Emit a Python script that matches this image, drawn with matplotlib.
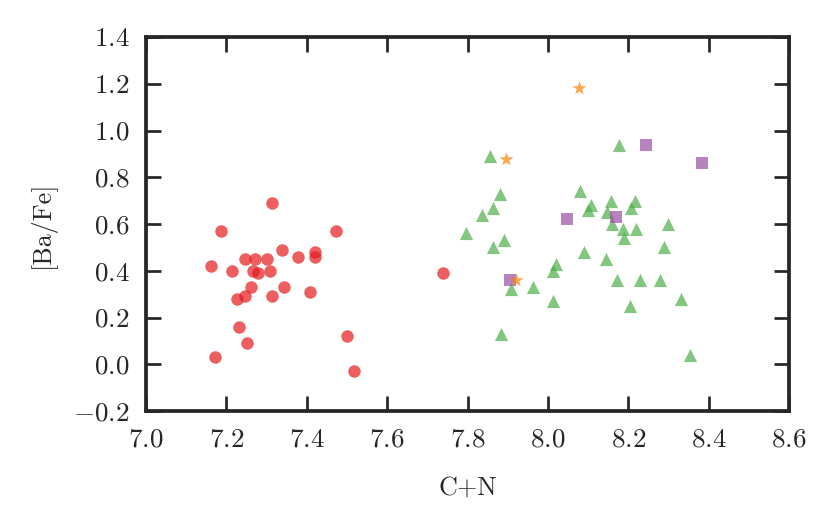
import matplotlib
matplotlib.use('Agg')
import matplotlib.pyplot as plt

# red circles
red_cn = [7.313, 7.186, 7.474, 7.338, 7.377, 7.421, 7.421, 7.246, 7.271, 7.301,
          7.162, 7.214, 7.267, 7.279, 7.309, 7.261, 7.343, 7.408, 7.226, 7.246,
          7.313, 7.232, 7.251, 7.499, 7.172, 7.518, 7.740]
red_ba = [0.69, 0.57, 0.57, 0.49, 0.46, 0.48, 0.46, 0.45, 0.45, 0.45,
          0.42, 0.40, 0.40, 0.39, 0.40, 0.33, 0.33, 0.31, 0.28, 0.29,
          0.29, 0.16, 0.09, 0.12, 0.03, -0.03, 0.39]

# green triangles
green_cn = [7.857, 8.176, 7.880, 7.864, 7.835, 7.796, 7.890, 7.863, 8.081, 8.107,
            8.101, 8.157, 8.217, 8.208, 8.146, 8.159, 8.186, 8.219, 8.190, 8.300,
            8.288, 8.090, 8.144, 8.019, 8.013, 8.171, 8.230, 8.278, 7.962, 7.907,
            8.013, 8.204, 8.332, 7.883, 8.354]
green_ba = [0.89, 0.94, 0.73, 0.67, 0.64, 0.56, 0.53, 0.50, 0.74, 0.68,
            0.66, 0.70, 0.70, 0.67, 0.65, 0.60, 0.58, 0.58, 0.54, 0.60,
            0.50, 0.48, 0.45, 0.43, 0.40, 0.36, 0.36, 0.36, 0.33, 0.32,
            0.27, 0.25, 0.28, 0.13, 0.04]

# purple squares
purple_cn = [8.243, 8.048, 8.170, 7.905, 8.383]
purple_ba = [0.94, 0.62, 0.63, 0.36, 0.86]

# orange stars
orange_cn = [8.077, 7.896, 7.921]
orange_ba = [1.18, 0.88, 0.36]

plt.rcParams['font.family'] = 'serif'
plt.rcParams['font.serif'] = ['cmr10']
plt.rcParams['mathtext.fontset'] = 'cm'
plt.rcParams['axes.formatter.use_mathtext'] = True
plt.rcParams['axes.unicode_minus'] = True

fig = plt.figure(figsize=(829 / 150, 525 / 150), dpi=150)
ax = fig.add_axes([146 / 829, 1 - 411 / 525, 643 / 829, 374 / 525])

ax.scatter(red_cn, red_ba, c='#e41a1c', marker='o', s=36, alpha=0.7, linewidths=0)
ax.scatter(green_cn, green_ba, c='#4daf4a', marker='^', s=40, alpha=0.7, linewidths=0)
ax.scatter(purple_cn, purple_ba, c='#984ea3', marker='s', s=34, alpha=0.7, linewidths=0)
ax.scatter(orange_cn, orange_ba, c='#ff7f00', marker='*', s=50, alpha=0.7, linewidths=0)

ax.set_xlim(7.0, 8.6)
ax.set_ylim(-0.2, 1.4)
ax.set_xticks([7.0, 7.2, 7.4, 7.6, 7.8, 8.0, 8.2, 8.4, 8.6])
ax.set_yticks([-0.2, 0.0, 0.2, 0.4, 0.6, 0.8, 1.0, 1.2, 1.4])
ax.set_xlabel('C+N', fontsize=12.5, color='#262626', labelpad=12)
ax.set_ylabel('[Ba/Fe]', fontsize=12.5, color='#262626', labelpad=8)

for sp in ax.spines.values():
    sp.set_linewidth(1.8)
    sp.set_color('#262626')
ax.tick_params(direction='in', length=7, width=1.3, colors='#262626',
               top=True, right=True, labelsize=13, pad=8)

fig.savefig('out.png', dpi=150)
